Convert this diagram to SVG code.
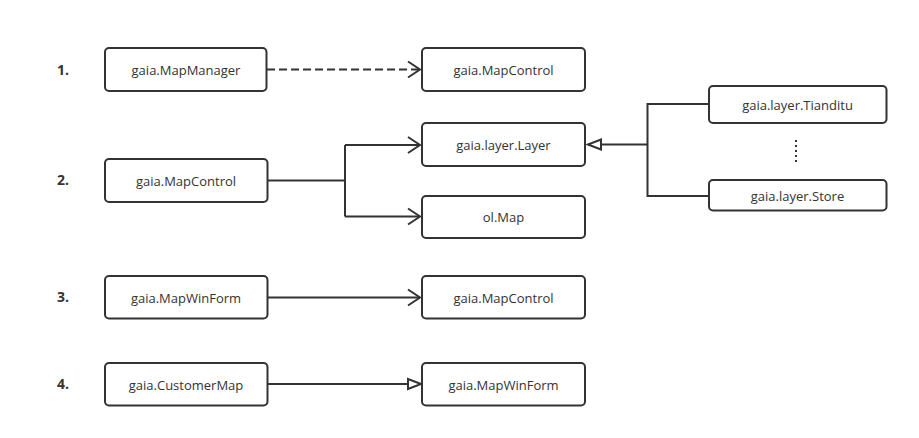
<svg xmlns="http://www.w3.org/2000/svg" width="919" height="438" viewBox="0 0 919 438">
  <defs>
    <style>
      .box { fill: #ffffff; stroke: #333333; stroke-width: 2; }
      .lbl { font-family: "Open Sans", "Noto Sans", "Liberation Sans", sans-serif; font-size: 13px; fill: #333333; text-anchor: middle; dominant-baseline: central; }
      .num { font-family: "Open Sans", "Noto Sans", "Liberation Sans", sans-serif; font-size: 14px; font-weight: bold; fill: #333333; }
      .edge { fill: none; stroke: #333333; stroke-width: 2; }
      .dash { stroke-dasharray: 8 4; }
      .dots { fill: none; stroke: #333333; stroke-width: 2; stroke-dasharray: 2 3; }
    </style>
    <marker id="open" viewBox="-15 -10 17 20" refX="0" refY="0" markerWidth="17" markerHeight="20" markerUnits="userSpaceOnUse" orient="auto" overflow="visible">
      <path d="M-12,-8 L0,0 L-12,8" fill="none" stroke="#333333" stroke-width="2"/>
    </marker>
    <marker id="tri" viewBox="-16 -8 18 16" refX="0" refY="0" markerWidth="18" markerHeight="16" markerUnits="userSpaceOnUse" orient="auto" overflow="visible">
      <path d="M0,0 L-13,-5 L-13,5 Z" fill="#ffffff" stroke="#333333" stroke-width="2"/>
    </marker>
  </defs>
  <rect x="0" y="0" width="919" height="438" fill="#ffffff"/>

  <g id="numbers">
    <text class="num" x="57" y="75">1.</text>
    <text class="num" x="57" y="185">2.</text>
    <text class="num" x="57" y="302">3.</text>
    <text class="num" x="57" y="389">4.</text>
  </g>

  <g id="connectors">
    <path class="edge dash" d="M267,69.5 L420,69.5" marker-end="url(#open)"/>
    <path class="edge" d="M267,180.5 L345,180.5"/>
    <path class="edge" d="M345,145 L345,216.5"/>
    <path class="edge" d="M345,145 L420,145" marker-end="url(#open)"/>
    <path class="edge" d="M345,216.5 L420,216.5" marker-end="url(#open)"/>
    <path class="edge" d="M709,104 L647.5,104 L647.5,196 L709,196"/>
    <path class="edge" d="M647.5,144.5 L588,144.5" marker-end="url(#tri)"/>
    <path class="dots" d="M796,140 L796,162"/>
    <path class="edge" d="M267,297.5 L420,297.5" marker-end="url(#open)"/>
    <path class="edge" d="M267,384 L421,384" marker-end="url(#tri)"/>
  </g>

  <g id="n1-manager">
    <rect class="box" x="105" y="48" width="161.5" height="43" rx="4"/>
    <text class="lbl" x="186" y="69.5">gaia.MapManager</text>
  </g>
  <g id="n1-control">
    <rect class="box" x="422" y="48" width="163" height="43" rx="4"/>
    <text class="lbl" x="503.5" y="69.5">gaia.MapControl</text>
  </g>
  <g id="n2-control">
    <rect class="box" x="105" y="159" width="162.5" height="43" rx="4"/>
    <text class="lbl" x="186" y="180.5">gaia.MapControl</text>
  </g>
  <g id="n2-layer">
    <rect class="box" x="422" y="123" width="163" height="43" rx="4"/>
    <text class="lbl" x="503.5" y="144.5">gaia.layer.Layer</text>
  </g>
  <g id="n2-olmap">
    <rect class="box" x="422" y="196" width="163" height="42" rx="4"/>
    <text class="lbl" x="503.5" y="217">ol.Map</text>
  </g>
  <g id="n2-tianditu">
    <rect class="box" x="709" y="86" width="177.5" height="37" rx="4"/>
    <text class="lbl" x="797.5" y="104.5">gaia.layer.Tianditu</text>
  </g>
  <g id="n2-store">
    <rect class="box" x="709" y="180" width="177.5" height="30.5" rx="4"/>
    <text class="lbl" x="797.5" y="195.5">gaia.layer.Store</text>
  </g>
  <g id="n3-winform">
    <rect class="box" x="105" y="276" width="162.5" height="42.5" rx="4"/>
    <text class="lbl" x="186" y="297.5">gaia.MapWinForm</text>
  </g>
  <g id="n3-control">
    <rect class="box" x="422" y="276" width="163" height="42.5" rx="4"/>
    <text class="lbl" x="503.5" y="297.5">gaia.MapControl</text>
  </g>
  <g id="n4-customer">
    <rect class="box" x="105" y="363" width="162.5" height="42.5" rx="4"/>
    <text class="lbl" x="186" y="384.5">gaia.CustomerMap</text>
  </g>
  <g id="n4-winform">
    <rect class="box" x="422" y="363" width="163" height="42.5" rx="4"/>
    <text class="lbl" x="503.5" y="384.5">gaia.MapWinForm</text>
  </g>
</svg>
